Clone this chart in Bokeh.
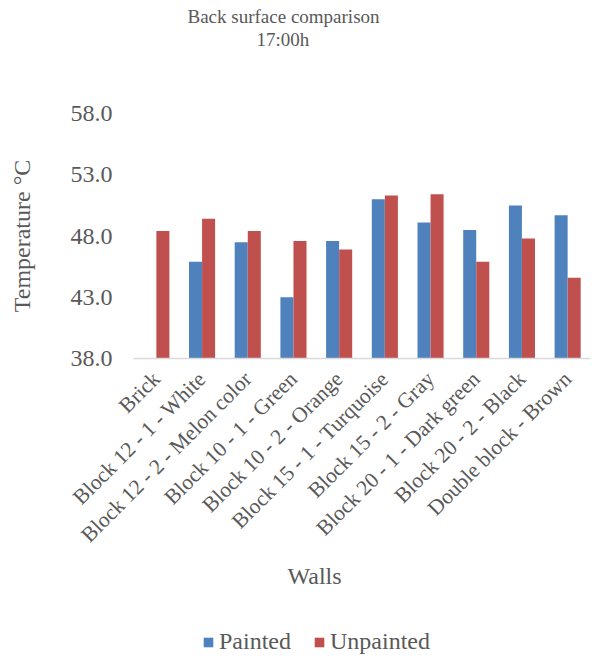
import numpy as np
from math import pi
from bokeh.plotting import figure
from bokeh.layouts import column
from bokeh.models import (Range1d, FixedTicker, NumeralTickFormatter, Legend, LegendItem,
                          Title, FactorRange, ColumnDataSource)
from bokeh.transform import dodge
from bokeh.embed import file_html
from bokeh.resources import INLINE

walls = ["Brick", "Block 12 - 1 - White", "Block 12 - 2 - Melon color",
         "Block 10 - 1 - Green", "Block 10 - 2 - Orange", "Block 15 - 1 - Turquoise",
         "Block 15 - 2 - Gray", "Block 20 - 1 - Dark green", "Block 20 - 2 - Black",
         "Double block - Brown"]
painted = [np.nan, 45.9, 47.5, 43.0, 47.6, 51.0, 49.1, 48.5, 50.5, 49.7]
unpainted = [48.4, 49.4, 48.4, 47.6, 46.9, 51.3, 51.4, 45.9, 47.8, 44.6]
y_ticks = [38, 43, 48, 53, 58]

FONT = "Liberation Serif"
GREY = "#595959"
BLUE = "#4F81BD"
RED = "#C0504D"

src = ColumnDataSource(dict(wall=walls, painted=np.array(painted, dtype=float),
                            unpainted=np.array(unpainted, dtype=float)))
xr = FactorRange(factors=walls)

p = figure(x_range=xr, y_range=Range1d(38, 58),
           frame_width=457, frame_height=245, output_backend="svg", toolbar_location=None,
           title=None, min_border_left=133, min_border_right=2,
           min_border_top=113, min_border_bottom=249)
p.outline_line_color = None
p.grid.visible = False

p.vbar(x=dodge("wall", -0.143, range=xr), top="painted", bottom=38,
       width=0.285, color=BLUE, line_color=None, source=src)
p.vbar(x=dodge("wall", 0.143, range=xr), top="unpainted", bottom=38,
       width=0.285, color=RED, line_color=None, source=src)

# y axis
p.yaxis.ticker = FixedTicker(ticks=y_ticks)
p.yaxis.formatter = NumeralTickFormatter(format="0.0")
p.yaxis.axis_line_color = None
p.yaxis.major_tick_line_color = None
p.yaxis.minor_tick_line_color = None
p.yaxis.major_label_text_font = FONT
p.yaxis.major_label_text_font_size = "24px"
p.yaxis.major_label_text_color = GREY
p.yaxis.major_label_standoff = 15
p.yaxis.axis_label = "Temperature °C"
p.yaxis.axis_label_text_font = FONT
p.yaxis.axis_label_text_font_size = "24px"
p.yaxis.axis_label_text_font_style = "normal"
p.yaxis.axis_label_text_color = GREY
p.yaxis.axis_label_standoff = 33

# x axis
p.xaxis.axis_line_color = "#D9D9D9"
p.xaxis.axis_line_width = 1.5
p.xaxis.major_tick_line_color = None
p.xaxis.minor_tick_line_color = None
p.xaxis.major_label_orientation = pi / 4
p.xaxis.major_label_text_font = FONT
p.xaxis.major_label_text_font_size = "21.5px"
p.xaxis.major_label_text_color = GREY
p.xaxis.major_label_standoff = 11

# titles: spacer (closest to frame), subtitle, title
p.add_layout(Title(text=" ", text_font_size="1px", standoff=61), "above")
p.add_layout(Title(text="17:00h", align="left", offset=123, text_font=FONT,
                   text_font_size="19px", text_font_style="normal", text_color=GREY,
                   standoff=0), "above")
p.add_layout(Title(text="Back surface comparison", align="left", offset=54, text_font=FONT,
                   text_font_size="19px", text_font_style="normal", text_color=GREY,
                   standoff=0), "above")

p.add_layout(Title(text="Walls", align="left", offset=154, text_font=FONT,
                   text_font_size="24px", text_font_style="normal", text_color=GREY,
                   standoff=4), "below")

# legend strip (same series, renderers hidden; only the legend is shown)
q = figure(width=592, height=50, x_range=xr, y_range=Range1d(0, 1),
           output_backend="svg", toolbar_location=None, title=None,
           x_axis_location=None, y_axis_location=None,
           min_border_left=0, min_border_right=0, min_border_top=0, min_border_bottom=0)
q.outline_line_color = None
q.grid.visible = False
g1 = q.vbar(x=dodge("wall", -0.143, range=xr), top="painted", bottom=38,
            width=0.285, color=BLUE, line_color=None, source=src, visible=False)
g2 = q.vbar(x=dodge("wall", 0.143, range=xr), top="unpainted", bottom=38,
            width=0.285, color=RED, line_color=None, source=src, visible=False)
legend = Legend(items=[LegendItem(label="Painted", renderers=[g1]),
                       LegendItem(label="Unpainted", renderers=[g2])],
                orientation="horizontal", location=(69, 2),
                label_text_font=FONT, label_text_font_size="24px", label_text_color=GREY,
                glyph_width=12, glyph_height=12, label_height=24,
                border_line_color=None, background_fill_alpha=0,
                inactive_fill_alpha=0,
                spacing=22, label_standoff=5, padding=0, margin=0)
q.add_layout(legend, "center")

open("out.html", "w").write(file_html(column(p, q), INLINE))
